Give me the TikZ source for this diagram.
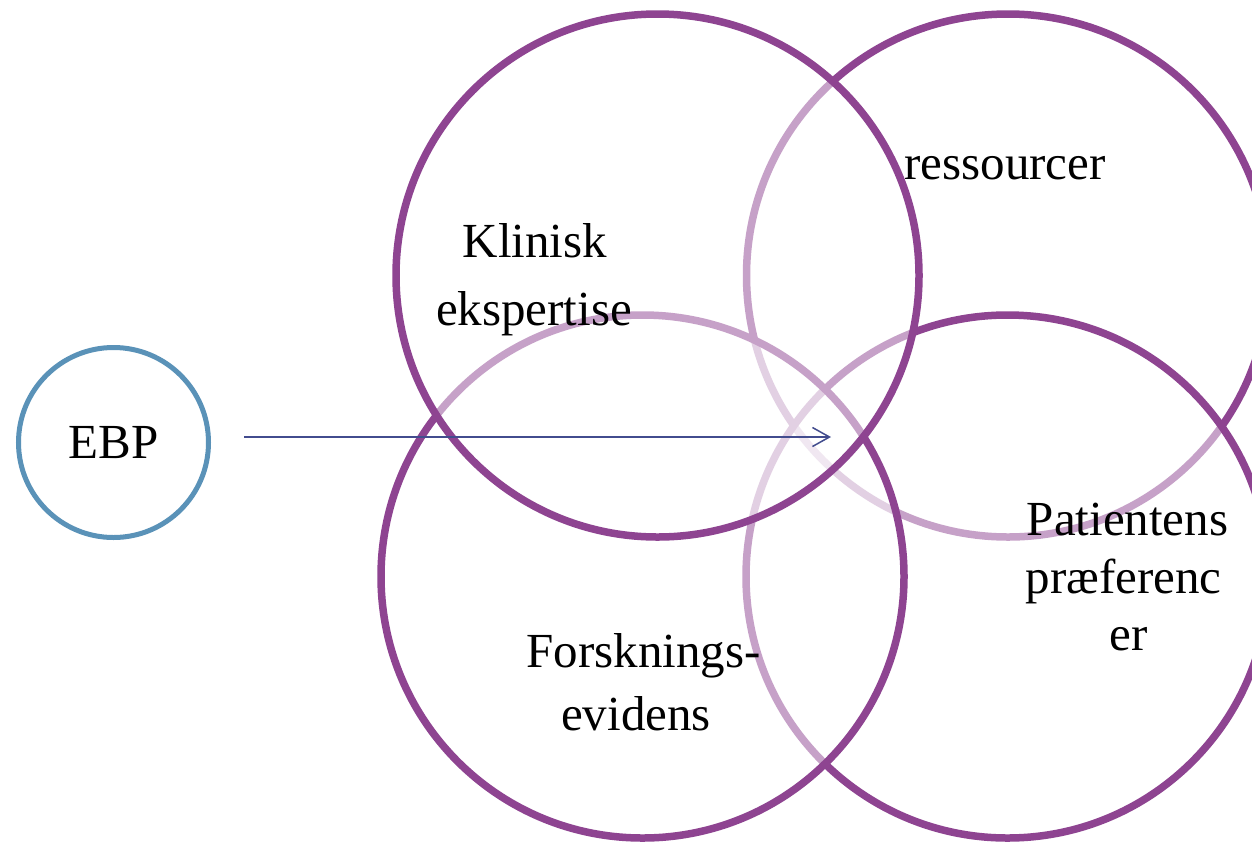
\documentclass[tikz,border=0pt]{standalone}
\usepackage{fontspec}
\setmainfont{Liberation Serif}
\usetikzlibrary{arrows.meta}
\definecolor{vpurple}{HTML}{8E4491}
\definecolor{ebpblue}{HTML}{5A92B8}
\definecolor{arrowblue}{HTML}{424C8E}
\begin{document}
\begin{tikzpicture}[x=1pt,y=-1pt,
  venn/.style={circle, draw=vpurple, line width=7.5pt, fill=white, fill opacity=0.5, draw opacity=1, minimum size=523pt, inner sep=0pt},
  lbl/.style={font=\fontsize{49}{49}\selectfont, anchor=base, inner sep=0pt, text=black},
  ebpstyle/.style={circle, draw=ebpblue, line width=5pt, minimum size=190pt, inner sep=0pt, font=\fontsize{49}{49}\selectfont},
  arrowstyle/.style={draw=arrowblue, line width=1.5pt, -{Straight Barb[length=17pt,width=19pt]}}]
\clip (0,0) rectangle (1252,844);
\useasboundingbox (0,0) rectangle (1252,844);
% Venn circles, bottom to top
\node[venn] (res) at (1008,275.5) {};
\node[venn] (pat) at (1007.5,576.5) {};
\node[venn] (for) at (642.5,576.5) {};
\node[venn] (kli) at (657.5,275.5) {};
% EBP
\node[ebpstyle] (ebp) at (113.5,442.5) {EBP};
% arrow
\coordinate (as) at (244,437);
\coordinate (ae) at (831,437);
\draw[arrowstyle] (as) -- (ae);
% labels
\node[lbl] (kl1) at (535,257) {Klinisk};
\node[lbl] (kl2) at (534,325) {ekspertise};
\node[lbl] (rs1) at (1005,179) {ressourcer};
\node[lbl] (fo1) at (643.5,667) {Forsknings-};
\node[lbl] (fo2) at (636,730) {evidens};
\node[lbl] (pa1) at (1127.5,535) {Patientens};
\node[lbl] (pa2) at (1123.5,593) {præferenc};
\node[lbl] (pa3) at (1129,650) {er};
\end{tikzpicture}
\end{document}
